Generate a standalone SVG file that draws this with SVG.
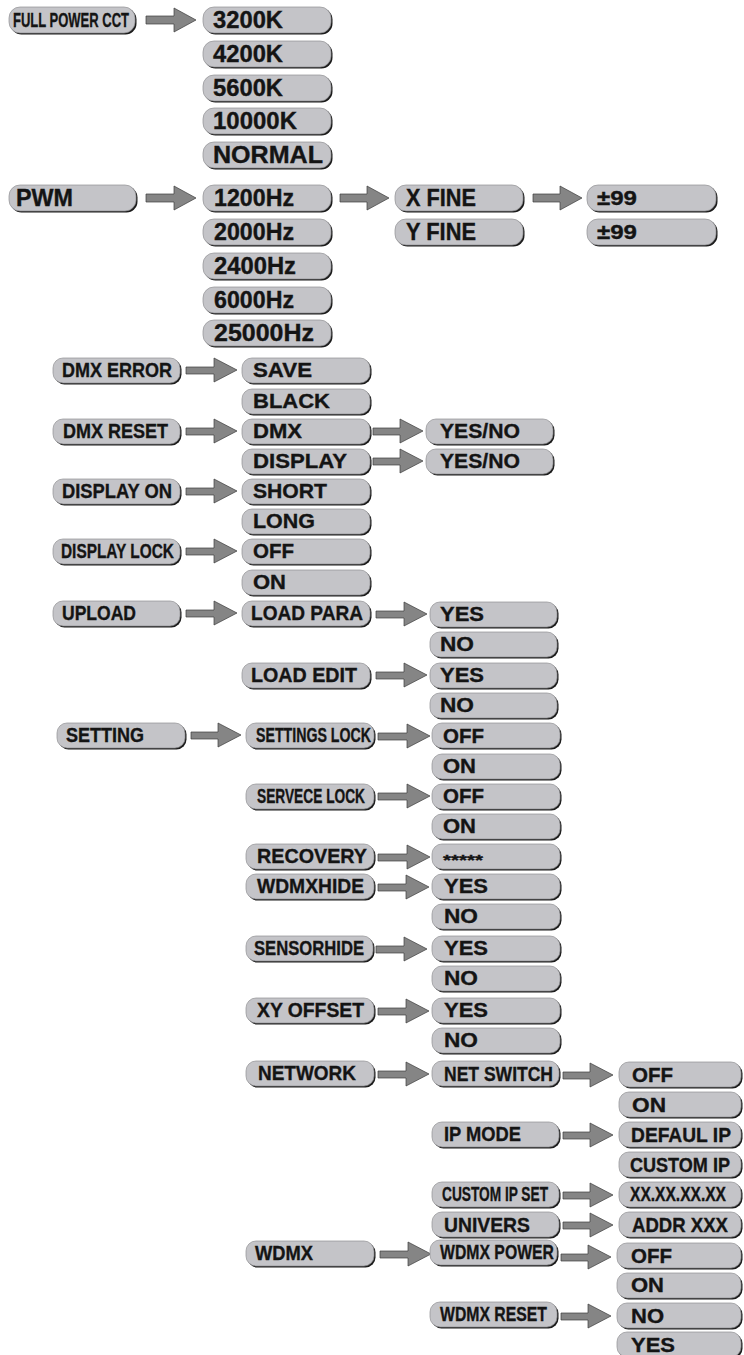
<svg xmlns="http://www.w3.org/2000/svg" width="744" height="1355" viewBox="0 0 744 1355">
<defs>
<style>
.s{fill:#1c1c1c}
.b{fill:#c4c4c8;stroke:#909094;stroke-width:.7}
text{font-family:"Liberation Sans",Arial,Helvetica,sans-serif;font-weight:bold;fill:#141414;stroke:#141414;stroke-width:.35}
.a{font-size:23px}
.m{font-size:21px}
.n{font-size:20px}
.k{font-size:15px}
.ar{fill:#858585;stroke:#3c3c3c;stroke-width:.7}
</style>
</defs>
<rect width="744" height="1355" fill="#fff"/>
<g id="connectors">
<path class="ar" d="M146 16H174V8L196 20L174 32V24H146Z"/>
<path class="ar" d="M146 194H174V186L196 198L174 210V202H146Z"/>
<path class="ar" d="M340 194H367V186L389 198L367 210V202H340Z"/>
<path class="ar" d="M533 194H560V186L582 198L560 210V202H533Z"/>
<path class="ar" d="M186 367H214V358L237 370L214 382V374H186Z"/>
<path class="ar" d="M186 428H214V419L237 431L214 443V435H186Z"/>
<path class="ar" d="M373 428H400V419L423 431L400 443V435H373Z"/>
<path class="ar" d="M373 458H400V449L423 461L400 473V465H373Z"/>
<path class="ar" d="M186 488H214V479L237 491L214 503V495H186Z"/>
<path class="ar" d="M186 548H214V539L237 551L214 563V555H186Z"/>
<path class="ar" d="M186 610H214V601L237 613L214 625V617H186Z"/>
<path class="ar" d="M376 611H404V602L427 614L404 626V618H376Z"/>
<path class="ar" d="M376 672H404V663L427 675L404 687V679H376Z"/>
<path class="ar" d="M191 732H218V723L241 735L218 747V739H191Z"/>
<path class="ar" d="M378 733H407V724L430 736L407 748V740H378Z"/>
<path class="ar" d="M378 793H407V784L430 796L407 808V800H378Z"/>
<path class="ar" d="M378 854H407V845L430 857L407 869V861H378Z"/>
<path class="ar" d="M378 884H406V875L429 887L406 899V891H378Z"/>
<path class="ar" d="M376 946H404V937L427 949L404 961V953H376Z"/>
<path class="ar" d="M378 1008H406V999L429 1011L406 1023V1015H378Z"/>
<path class="ar" d="M378 1071H406V1062L429 1074L406 1086V1078H378Z"/>
<path class="ar" d="M563 1072H590V1063L613 1075L590 1087V1079H563Z"/>
<path class="ar" d="M563 1132H590V1123L613 1135L590 1147V1139H563Z"/>
<path class="ar" d="M563 1192H590V1183L613 1195L590 1207V1199H563Z"/>
<path class="ar" d="M563 1222H590V1213L613 1225L590 1237V1229H563Z"/>
<path class="ar" d="M380 1251H408V1242L431 1254L408 1266V1258H380Z"/>
<path class="ar" d="M561 1254H588V1245L611 1257L588 1269V1261H561Z"/>
<path class="ar" d="M561 1313H588V1304L611 1316L588 1328V1320H561Z"/>
</g>
<g id="n-fullpower"><rect class="s" x="10.5" y="8.5" width="126" height="26" rx="11"/><rect class="b" x="9" y="7" width="126" height="26" rx="11"/><text class="m" x="13" y="27" textLength="116" lengthAdjust="spacingAndGlyphs">FULL POWER CCT</text></g>
<g id="n-3200"><rect class="s" x="204.5" y="8.5" width="128" height="26" rx="11"/><rect class="b" x="203" y="7" width="128" height="26" rx="11"/><text class="a" x="213" y="28" textLength="70" lengthAdjust="spacingAndGlyphs">3200K</text></g>
<g id="n-4200"><rect class="s" x="204.5" y="42.5" width="128" height="26" rx="11"/><rect class="b" x="203" y="41" width="128" height="26" rx="11"/><text class="a" x="213" y="62" textLength="70" lengthAdjust="spacingAndGlyphs">4200K</text></g>
<g id="n-5600"><rect class="s" x="204.5" y="76.5" width="128" height="26" rx="11"/><rect class="b" x="203" y="75" width="128" height="26" rx="11"/><text class="a" x="213" y="96" textLength="70" lengthAdjust="spacingAndGlyphs">5600K</text></g>
<g id="n-10000"><rect class="s" x="204.5" y="109.5" width="128" height="26" rx="11"/><rect class="b" x="203" y="108" width="128" height="26" rx="11"/><text class="a" x="213" y="129" textLength="84" lengthAdjust="spacingAndGlyphs">10000K</text></g>
<g id="n-normal"><rect class="s" x="204.5" y="143.5" width="128" height="26" rx="11"/><rect class="b" x="203" y="142" width="128" height="26" rx="11"/><text class="a" x="213" y="163" textLength="110" lengthAdjust="spacingAndGlyphs">NORMAL</text></g>
<g id="n-pwm"><rect class="s" x="10.5" y="186.5" width="127" height="26" rx="11"/><rect class="b" x="9" y="185" width="127" height="26" rx="11"/><text class="a" x="16" y="206" textLength="57" lengthAdjust="spacingAndGlyphs">PWM</text></g>
<g id="n-1200"><rect class="s" x="204.5" y="186.5" width="128" height="26" rx="11"/><rect class="b" x="203" y="185" width="128" height="26" rx="11"/><text class="a" x="214" y="206" textLength="80" lengthAdjust="spacingAndGlyphs">1200Hz</text></g>
<g id="n-2000"><rect class="s" x="204.5" y="220.5" width="128" height="26" rx="11"/><rect class="b" x="203" y="219" width="128" height="26" rx="11"/><text class="a" x="214" y="240" textLength="80" lengthAdjust="spacingAndGlyphs">2000Hz</text></g>
<g id="n-2400"><rect class="s" x="204.5" y="254.5" width="128" height="26" rx="11"/><rect class="b" x="203" y="253" width="128" height="26" rx="11"/><text class="a" x="214" y="274" textLength="82" lengthAdjust="spacingAndGlyphs">2400Hz</text></g>
<g id="n-6000"><rect class="s" x="204.5" y="288.5" width="128" height="26" rx="11"/><rect class="b" x="203" y="287" width="128" height="26" rx="11"/><text class="a" x="214" y="308" textLength="80" lengthAdjust="spacingAndGlyphs">6000Hz</text></g>
<g id="n-25000"><rect class="s" x="204.5" y="321.5" width="128" height="26" rx="11"/><rect class="b" x="203" y="320" width="128" height="26" rx="11"/><text class="a" x="214" y="341" textLength="100" lengthAdjust="spacingAndGlyphs">25000Hz</text></g>
<g id="n-xfine"><rect class="s" x="396.5" y="186.5" width="128" height="26" rx="11"/><rect class="b" x="395" y="185" width="128" height="26" rx="11"/><text class="a" x="406" y="206" textLength="70" lengthAdjust="spacingAndGlyphs">X FINE</text></g>
<g id="n-yfine"><rect class="s" x="396.5" y="220.5" width="128" height="26" rx="11"/><rect class="b" x="395" y="219" width="128" height="26" rx="11"/><text class="a" x="406" y="240" textLength="70" lengthAdjust="spacingAndGlyphs">Y FINE</text></g>
<g id="n-x99"><rect class="s" x="588.5" y="186.5" width="129" height="26" rx="11"/><rect class="b" x="587" y="185" width="129" height="26" rx="11"/><text class="m" x="597" y="205" textLength="40" lengthAdjust="spacingAndGlyphs">±99</text></g>
<g id="n-y99"><rect class="s" x="588.5" y="220.5" width="129" height="26" rx="11"/><rect class="b" x="587" y="219" width="129" height="26" rx="11"/><text class="m" x="597" y="239" textLength="40" lengthAdjust="spacingAndGlyphs">±99</text></g>
<g id="n-dmxerror"><rect class="s" x="54.5" y="359.5" width="127" height="25" rx="10"/><rect class="b" x="53" y="358" width="127" height="25" rx="10"/><text class="m" x="62" y="377" textLength="110" lengthAdjust="spacingAndGlyphs">DMX ERROR</text></g>
<g id="n-save"><rect class="s" x="243.5" y="359.5" width="128" height="25" rx="10"/><rect class="b" x="242" y="358" width="128" height="25" rx="10"/><text class="m" x="253" y="377" textLength="59" lengthAdjust="spacingAndGlyphs">SAVE</text></g>
<g id="n-black"><rect class="s" x="243.5" y="390.5" width="128" height="25" rx="10"/><rect class="b" x="242" y="389" width="128" height="25" rx="10"/><text class="m" x="253" y="408" textLength="77" lengthAdjust="spacingAndGlyphs">BLACK</text></g>
<g id="n-dmxreset"><rect class="s" x="54.5" y="420.5" width="127" height="25" rx="10"/><rect class="b" x="53" y="419" width="127" height="25" rx="10"/><text class="m" x="63" y="438" textLength="105" lengthAdjust="spacingAndGlyphs">DMX RESET</text></g>
<g id="n-dmx"><rect class="s" x="243.5" y="420.5" width="128" height="25" rx="10"/><rect class="b" x="242" y="419" width="128" height="25" rx="10"/><text class="m" x="253" y="438" textLength="49" lengthAdjust="spacingAndGlyphs">DMX</text></g>
<g id="n-yesno1"><rect class="s" x="427.5" y="420.5" width="127" height="25" rx="10"/><rect class="b" x="426" y="419" width="127" height="25" rx="10"/><text class="m" x="440" y="438" textLength="80" lengthAdjust="spacingAndGlyphs">YES/NO</text></g>
<g id="n-display"><rect class="s" x="243.5" y="450.5" width="128" height="25" rx="10"/><rect class="b" x="242" y="449" width="128" height="25" rx="10"/><text class="m" x="253" y="468" textLength="94" lengthAdjust="spacingAndGlyphs">DISPLAY</text></g>
<g id="n-yesno2"><rect class="s" x="427.5" y="450.5" width="127" height="25" rx="10"/><rect class="b" x="426" y="449" width="127" height="25" rx="10"/><text class="m" x="440" y="468" textLength="80" lengthAdjust="spacingAndGlyphs">YES/NO</text></g>
<g id="n-displayon"><rect class="s" x="54.5" y="480.5" width="127" height="25" rx="10"/><rect class="b" x="53" y="479" width="127" height="25" rx="10"/><text class="m" x="62" y="498" textLength="110" lengthAdjust="spacingAndGlyphs">DISPLAY ON</text></g>
<g id="n-short"><rect class="s" x="243.5" y="480.5" width="128" height="25" rx="10"/><rect class="b" x="242" y="479" width="128" height="25" rx="10"/><text class="m" x="253" y="498" textLength="74" lengthAdjust="spacingAndGlyphs">SHORT</text></g>
<g id="n-long"><rect class="s" x="243.5" y="510.5" width="128" height="25" rx="10"/><rect class="b" x="242" y="509" width="128" height="25" rx="10"/><text class="m" x="253" y="528" textLength="62" lengthAdjust="spacingAndGlyphs">LONG</text></g>
<g id="n-displaylock"><rect class="s" x="54.5" y="540.5" width="127" height="25" rx="10"/><rect class="b" x="53" y="539" width="127" height="25" rx="10"/><text class="m" x="61" y="558" textLength="113" lengthAdjust="spacingAndGlyphs">DISPLAY LOCK</text></g>
<g id="n-off1"><rect class="s" x="243.5" y="540.5" width="128" height="25" rx="10"/><rect class="b" x="242" y="539" width="128" height="25" rx="10"/><text class="m" x="253" y="558" textLength="41" lengthAdjust="spacingAndGlyphs">OFF</text></g>
<g id="n-on1"><rect class="s" x="243.5" y="571.5" width="128" height="25" rx="10"/><rect class="b" x="242" y="570" width="128" height="25" rx="10"/><text class="m" x="253" y="589" textLength="33" lengthAdjust="spacingAndGlyphs">ON</text></g>
<g id="n-upload"><rect class="s" x="54.5" y="602.5" width="127" height="25" rx="10"/><rect class="b" x="53" y="601" width="127" height="25" rx="10"/><text class="m" x="62" y="620" textLength="74" lengthAdjust="spacingAndGlyphs">UPLOAD</text></g>
<g id="n-loadpara"><rect class="s" x="243.5" y="602.5" width="128" height="25" rx="10"/><rect class="b" x="242" y="601" width="128" height="25" rx="10"/><text class="m" x="251" y="620" textLength="112" lengthAdjust="spacingAndGlyphs">LOAD PARA</text></g>
<g id="n-yes1"><rect class="s" x="431.5" y="603.5" width="127" height="25" rx="10"/><rect class="b" x="430" y="602" width="127" height="25" rx="10"/><text class="m" x="440" y="621" textLength="44" lengthAdjust="spacingAndGlyphs">YES</text></g>
<g id="n-no1"><rect class="s" x="431.5" y="633.5" width="127" height="25" rx="10"/><rect class="b" x="430" y="632" width="127" height="25" rx="10"/><text class="m" x="440" y="651" textLength="34" lengthAdjust="spacingAndGlyphs">NO</text></g>
<g id="n-loadedit"><rect class="s" x="243.5" y="664.5" width="128" height="25" rx="10"/><rect class="b" x="242" y="663" width="128" height="25" rx="10"/><text class="m" x="251" y="682" textLength="106" lengthAdjust="spacingAndGlyphs">LOAD EDIT</text></g>
<g id="n-yes2"><rect class="s" x="431.5" y="664.5" width="127" height="25" rx="10"/><rect class="b" x="430" y="663" width="127" height="25" rx="10"/><text class="m" x="440" y="682" textLength="44" lengthAdjust="spacingAndGlyphs">YES</text></g>
<g id="n-no2"><rect class="s" x="431.5" y="694.5" width="127" height="25" rx="10"/><rect class="b" x="430" y="693" width="127" height="25" rx="10"/><text class="m" x="440" y="712" textLength="34" lengthAdjust="spacingAndGlyphs">NO</text></g>
<g id="n-setting"><rect class="s" x="58.5" y="724.5" width="128" height="25" rx="10"/><rect class="b" x="57" y="723" width="128" height="25" rx="10"/><text class="m" x="66" y="742" textLength="78" lengthAdjust="spacingAndGlyphs">SETTING</text></g>
<g id="n-settingslock"><rect class="s" x="247.5" y="724.5" width="128" height="25" rx="10"/><rect class="b" x="246" y="723" width="128" height="25" rx="10"/><text class="m" x="256" y="742" textLength="115" lengthAdjust="spacingAndGlyphs">SETTINGS LOCK</text></g>
<g id="n-off2"><rect class="s" x="433.5" y="724.5" width="128" height="25" rx="10"/><rect class="b" x="432" y="723" width="128" height="25" rx="10"/><text class="m" x="443" y="743" textLength="41" lengthAdjust="spacingAndGlyphs">OFF</text></g>
<g id="n-on2"><rect class="s" x="433.5" y="755.5" width="128" height="25" rx="10"/><rect class="b" x="432" y="754" width="128" height="25" rx="10"/><text class="m" x="443" y="773" textLength="33" lengthAdjust="spacingAndGlyphs">ON</text></g>
<g id="n-servecelock"><rect class="s" x="247.5" y="785.5" width="128" height="25" rx="10"/><rect class="b" x="246" y="784" width="128" height="25" rx="10"/><text class="m" x="257" y="803" textLength="108" lengthAdjust="spacingAndGlyphs">SERVECE LOCK</text></g>
<g id="n-off3"><rect class="s" x="433.5" y="785.5" width="128" height="25" rx="10"/><rect class="b" x="432" y="784" width="128" height="25" rx="10"/><text class="m" x="443" y="803" textLength="41" lengthAdjust="spacingAndGlyphs">OFF</text></g>
<g id="n-on3"><rect class="s" x="433.5" y="815.5" width="128" height="25" rx="10"/><rect class="b" x="432" y="814" width="128" height="25" rx="10"/><text class="m" x="443" y="833" textLength="33" lengthAdjust="spacingAndGlyphs">ON</text></g>
<g id="n-recovery"><rect class="s" x="247.5" y="845.5" width="128" height="25" rx="10"/><rect class="b" x="246" y="844" width="128" height="25" rx="10"/><text class="m" x="257" y="863" textLength="110" lengthAdjust="spacingAndGlyphs">RECOVERY</text></g>
<g id="n-stars"><rect class="s" x="433.5" y="845.5" width="128" height="25" rx="10"/><rect class="b" x="432" y="844" width="128" height="25" rx="10"/><text class="k" x="443" y="865" textLength="40" lengthAdjust="spacingAndGlyphs">*****</text></g>
<g id="n-wdmxhide"><rect class="s" x="247.5" y="875.5" width="128" height="25" rx="10"/><rect class="b" x="246" y="874" width="128" height="25" rx="10"/><text class="m" x="257" y="893" textLength="107" lengthAdjust="spacingAndGlyphs">WDMXHIDE</text></g>
<g id="n-yes3"><rect class="s" x="433.5" y="875.5" width="128" height="25" rx="10"/><rect class="b" x="432" y="874" width="128" height="25" rx="10"/><text class="m" x="444" y="893" textLength="44" lengthAdjust="spacingAndGlyphs">YES</text></g>
<g id="n-no3"><rect class="s" x="433.5" y="905.5" width="128" height="25" rx="10"/><rect class="b" x="432" y="904" width="128" height="25" rx="10"/><text class="m" x="444" y="923" textLength="34" lengthAdjust="spacingAndGlyphs">NO</text></g>
<g id="n-sensorhide"><rect class="s" x="247.5" y="937.5" width="127" height="25" rx="10"/><rect class="b" x="246" y="936" width="127" height="25" rx="10"/><text class="m" x="254" y="955" textLength="110" lengthAdjust="spacingAndGlyphs">SENSORHIDE</text></g>
<g id="n-yes4"><rect class="s" x="433.5" y="937.5" width="128" height="25" rx="10"/><rect class="b" x="432" y="936" width="128" height="25" rx="10"/><text class="m" x="444" y="955" textLength="44" lengthAdjust="spacingAndGlyphs">YES</text></g>
<g id="n-no4"><rect class="s" x="433.5" y="967.5" width="128" height="25" rx="10"/><rect class="b" x="432" y="966" width="128" height="25" rx="10"/><text class="m" x="444" y="985" textLength="34" lengthAdjust="spacingAndGlyphs">NO</text></g>
<g id="n-xyoffset"><rect class="s" x="247.5" y="999.5" width="128" height="25" rx="10"/><rect class="b" x="246" y="998" width="128" height="25" rx="10"/><text class="m" x="257" y="1017" textLength="107" lengthAdjust="spacingAndGlyphs">XY OFFSET</text></g>
<g id="n-yes5"><rect class="s" x="433.5" y="999.5" width="128" height="25" rx="10"/><rect class="b" x="432" y="998" width="128" height="25" rx="10"/><text class="m" x="444" y="1017" textLength="44" lengthAdjust="spacingAndGlyphs">YES</text></g>
<g id="n-no5"><rect class="s" x="433.5" y="1029.5" width="128" height="25" rx="10"/><rect class="b" x="432" y="1028" width="128" height="25" rx="10"/><text class="m" x="444" y="1047" textLength="34" lengthAdjust="spacingAndGlyphs">NO</text></g>
<g id="n-network"><rect class="s" x="247.5" y="1062.5" width="128" height="25" rx="10"/><rect class="b" x="246" y="1061" width="128" height="25" rx="10"/><text class="m" x="258" y="1080" textLength="98" lengthAdjust="spacingAndGlyphs">NETWORK</text></g>
<g id="n-netswitch"><rect class="s" x="433.5" y="1062.5" width="127" height="25" rx="10"/><rect class="b" x="432" y="1061" width="127" height="25" rx="10"/><text class="m" x="444" y="1081" textLength="109" lengthAdjust="spacingAndGlyphs">NET SWITCH</text></g>
<g id="n-off4"><rect class="s" x="620.5" y="1063.5" width="122" height="25" rx="10"/><rect class="b" x="619" y="1062" width="122" height="25" rx="10"/><text class="m" x="632" y="1082" textLength="41" lengthAdjust="spacingAndGlyphs">OFF</text></g>
<g id="n-on4"><rect class="s" x="620.5" y="1093.5" width="122" height="25" rx="10"/><rect class="b" x="619" y="1092" width="122" height="25" rx="10"/><text class="m" x="632" y="1112" textLength="34" lengthAdjust="spacingAndGlyphs">ON</text></g>
<g id="n-ipmode"><rect class="s" x="433.5" y="1123.5" width="127" height="25" rx="10"/><rect class="b" x="432" y="1122" width="127" height="25" rx="10"/><text class="m" x="444" y="1141" textLength="77" lengthAdjust="spacingAndGlyphs">IP MODE</text></g>
<g id="n-defaulip"><rect class="s" x="620.5" y="1123.5" width="122" height="25" rx="10"/><rect class="b" x="619" y="1122" width="122" height="25" rx="10"/><text class="m" x="631" y="1142" textLength="100" lengthAdjust="spacingAndGlyphs">DEFAUL IP</text></g>
<g id="n-customip"><rect class="s" x="620.5" y="1153.5" width="122" height="25" rx="10"/><rect class="b" x="619" y="1152" width="122" height="25" rx="10"/><text class="m" x="630" y="1172" textLength="100" lengthAdjust="spacingAndGlyphs">CUSTOM IP</text></g>
<g id="n-customipset"><rect class="s" x="433.5" y="1183.5" width="127" height="25" rx="10"/><rect class="b" x="432" y="1182" width="127" height="25" rx="10"/><text class="m" x="442" y="1201" textLength="106" lengthAdjust="spacingAndGlyphs">CUSTOM IP SET</text></g>
<g id="n-xx"><rect class="s" x="620.5" y="1183.5" width="122" height="25" rx="10"/><rect class="b" x="619" y="1182" width="122" height="25" rx="10"/><text class="n" x="630" y="1201" textLength="96" lengthAdjust="spacingAndGlyphs">XX.XX.XX.XX</text></g>
<g id="n-univers"><rect class="s" x="433.5" y="1213.5" width="127" height="25" rx="10"/><rect class="b" x="432" y="1212" width="127" height="25" rx="10"/><text class="m" x="444" y="1232" textLength="86" lengthAdjust="spacingAndGlyphs">UNIVERS</text></g>
<g id="n-addr"><rect class="s" x="620.5" y="1213.5" width="122" height="25" rx="10"/><rect class="b" x="619" y="1212" width="122" height="25" rx="10"/><text class="m" x="632" y="1232" textLength="96" lengthAdjust="spacingAndGlyphs">ADDR XXX</text></g>
<g id="n-wdmx"><rect class="s" x="247.5" y="1242.5" width="128" height="25" rx="10"/><rect class="b" x="246" y="1241" width="128" height="25" rx="10"/><text class="m" x="255" y="1260" textLength="58" lengthAdjust="spacingAndGlyphs">WDMX</text></g>
<g id="n-wdmxpower"><rect class="s" x="431.5" y="1241.5" width="127" height="25" rx="10"/><rect class="b" x="430" y="1240" width="127" height="25" rx="10"/><text class="m" x="440" y="1259" textLength="114" lengthAdjust="spacingAndGlyphs">WDMX POWER</text></g>
<g id="n-off5"><rect class="s" x="618.5" y="1244.5" width="124" height="25" rx="10"/><rect class="b" x="617" y="1243" width="124" height="25" rx="10"/><text class="m" x="631" y="1263" textLength="41" lengthAdjust="spacingAndGlyphs">OFF</text></g>
<g id="n-on5"><rect class="s" x="618.5" y="1274.5" width="124" height="25" rx="10"/><rect class="b" x="617" y="1273" width="124" height="25" rx="10"/><text class="m" x="631" y="1292" textLength="33" lengthAdjust="spacingAndGlyphs">ON</text></g>
<g id="n-wdmxreset"><rect class="s" x="431.5" y="1303.5" width="127" height="25" rx="10"/><rect class="b" x="430" y="1302" width="127" height="25" rx="10"/><text class="m" x="440" y="1321" textLength="107" lengthAdjust="spacingAndGlyphs">WDMX RESET</text></g>
<g id="n-no6"><rect class="s" x="618.5" y="1304.5" width="124" height="25" rx="10"/><rect class="b" x="617" y="1303" width="124" height="25" rx="10"/><text class="m" x="631" y="1323" textLength="33" lengthAdjust="spacingAndGlyphs">NO</text></g>
<g id="n-yes6"><rect class="s" x="618.5" y="1333.5" width="124" height="25" rx="10"/><rect class="b" x="617" y="1332" width="124" height="25" rx="10"/><text class="m" x="631" y="1352" textLength="44" lengthAdjust="spacingAndGlyphs">YES</text></g>
</svg>
